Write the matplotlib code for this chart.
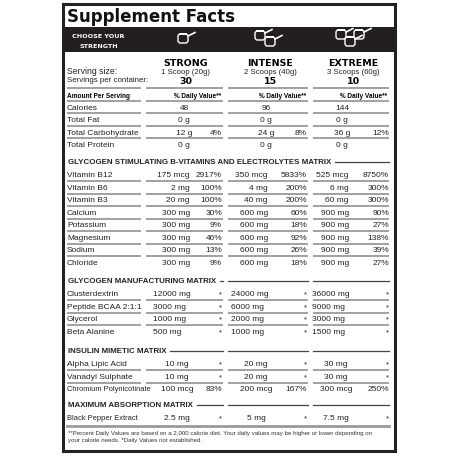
import matplotlib
matplotlib.use("Agg")
import matplotlib.pyplot as plt
from matplotlib.patches import Rectangle, FancyBboxPatch
from matplotlib import font_manager

names = [f.name for f in font_manager.fontManager.ttflist]
NARROW = 'Liberation Sans Narrow' if 'Liberation Sans Narrow' in names else 'Liberation Sans'
FAM = [NARROW, 'DejaVu Sans']

strengths = ["STRONG", "INTENSE", "EXTREME"]
serving_sizes = ["1 Scoop (20g)", "2 Scoops (40g)", "3 Scoops (60g)"]
servings = ["30", "15", "10"]

basic_names = ["Calories", "Total Fat", "Total Carbohydrate", "Total Protein"]
basic_vals = [["48", "96", "144"], ["0 g", "0 g", "0 g"], ["12 g", "24 g", "36 g"], ["0 g", "0 g", "0 g"]]
basic_pct = [["", "", ""], ["", "", ""], ["4%", "8%", "12%"], ["", "", ""]]

sections = [
    ("GLYCOGEN STIMULATING B-VITAMINS AND ELECTROLYTES MATRIX",
     ["Vitamin B12", "Vitamin B6", "Vitamin B3", "Calcium", "Potassium", "Magnesium", "Sodium", "Chloride"],
     [["175 mcg", "350 mcg", "525 mcg"], ["2 mg", "4 mg", "6 mg"], ["20 mg", "40 mg", "60 mg"],
      ["300 mg", "600 mg", "900 mg"], ["300 mg", "600 mg", "900 mg"], ["300 mg", "600 mg", "900 mg"],
      ["300 mg", "600 mg", "900 mg"], ["300 mg", "600 mg", "900 mg"]],
     [["2917%", "5833%", "8750%"], ["100%", "200%", "300%"], ["100%", "200%", "300%"],
      ["30%", "60%", "90%"], ["9%", "18%", "27%"], ["46%", "92%", "138%"],
      ["13%", "26%", "39%"], ["9%", "18%", "27%"]], 'right'),
    ("GLYCOGEN MANUFACTURING MATRIX",
     ["Clusterdextrin", "Peptide BCAA 2:1:1", "Glycerol", "Beta Alanine"],
     [["12000 mg", "24000 mg", "36000 mg"], ["3000 mg", "6000 mg", "9000 mg"],
      ["1000 mg", "2000 mg", "3000 mg"], ["500 mg", "1000 mg", "1500 mg"]],
     [["*", "*", "*"]] * 4, 'mfg'),
    ("INSULIN MIMETIC MATRIX",
     ["Alpha Lipic Acid", "Vanadyl Sulphate", "Chromium Polynicotinate"],
     [["10 mg", "20 mg", "30 mg"], ["10 mg", "20 mg", "30 mg"], ["100 mcg", "200 mcg", "300 mcg"]],
     [["*", "*", "*"], ["*", "*", "*"], ["83%", "167%", "250%"]], 'center'),
    ("MAXIMUM ABSORPTION MATRIX",
     ["Black Pepper Extract"],
     [["2.5 mg", "5 mg", "7.5 mg"]],
     [["*", "*", "*"]], 'center'),
]

fig = plt.figure(figsize=(4.6, 4.6), dpi=100)
ax = fig.add_axes([0, 0, 1, 1])
ax.set_xlim(0, 460); ax.set_ylim(460, 0); ax.axis('off')

ax.add_patch(Rectangle((63, 5), 332, 447, fill=False, ec='#222', lw=2.2))
ax.text(67, 17, "Supplement Facts", fontsize=12, fontweight='bold', family='DejaVu Sans',
        va='center', ha='left', color='#111')
ax.add_patch(Rectangle((64, 28), 330, 25, fc='#231f20', ec='none'))
ax.text(72, 36, "CHOOSE YOUR", fontsize=4.6, fontweight='bold', color='white', family='DejaVu Sans', va='center')
ax.text(80, 46, "STRENGTH", fontsize=4.6, fontweight='bold', color='white', family='DejaVu Sans', va='center')

def scoop(x, y):
    ax.add_patch(FancyBboxPatch((x, y), 10, 9, boxstyle="round,pad=0,rounding_size=2.5",
                                fc='#231f20', ec='white', lw=1))
    ax.plot([x + 10, x + 17], [y + 2, y - 1.5], color='white', lw=1.2)
    ax.add_patch(Rectangle((x + 1, y - 1), 8, 2, fc='white', ec='none'))

scoop(178, 35)
scoop(255, 32); scoop(265, 38)
scoop(336, 31); scoop(354, 31); scoop(345, 38)

cx = [186, 270, 353]
for i in range(3):
    ax.text(cx[i], 63, strengths[i], fontsize=6.8, fontweight='bold', ha='center', va='center', family='DejaVu Sans')
    ax.text(cx[i], 72, serving_sizes[i], fontsize=5.6, ha='center', va='center', family='Liberation Sans', color='#222')
    ax.text(cx[i], 81, servings[i], fontsize=6.8, fontweight='bold', ha='center', va='center', family='DejaVu Sans')
ax.text(67, 72, "Serving size:", fontsize=6.2, va='center', family='Liberation Sans', color='#222')
ax.text(67, 81, "Servings per container:", fontsize=5.7, va='center', family='Liberation Sans', color='#222')

segs = [(67, 141), (146, 223), (228, 308), (313, 389)]
LC = '#9a9a9a'
def underline(y, lw=1.3):
    for a, b in segs:
        ax.plot([a, b], [y, y], color=LC, lw=lw, solid_capstyle='butt')

underline(89)
ax.text(67, 96, "Amount Per Serving", fontsize=4.7, fontweight='bold', family=FAM, va='center')
for i, (a, b) in enumerate(segs[1:]):
    ax.text(b - 2, 96, "% Daily Value**", fontsize=4.7, fontweight='bold', family=FAM, va='center', ha='right')
underline(102)

valR = [190, 268, 349]
pctR = [222, 307, 389]
valC = [184, 266, 342]
fs = 6.0
y = 108
for n, v, p in zip(basic_names, basic_vals, basic_pct):
    ax.text(67, y, n, fontsize=fs, family=FAM, va='center', color='#222')
    for i in range(3):
        ax.text(valC[i], y, v[i], fontsize=fs, family=FAM, va='center', ha='center', color='#222')
        if p[i]:
            ax.text(pctR[i], y, p[i], fontsize=fs, family=FAM, va='center', ha='right', color='#222')
    if n != basic_names[-1]:
        underline(y + 6)
    y += 12.6

ystarts = [163, 282, 352, 406]
for (title, rn, rv, rp, mode), ys in zip(sections, ystarts):
    t = ax.text(68, ys, title, fontsize=5.7, fontweight='bold', family=FAM, va='center', color='#222')
    fig.canvas.draw()
    bb = t.get_window_extent()
    xend = bb.x1 + 4
    for a, b in segs:
        if b > xend:
            ax.plot([max(a, xend), b], [ys, ys], color='#444', lw=0.9)
    y = ys + 13
    for k, (n, v, p) in enumerate(zip(rn, rv, rp)):
        nfs = fs if len(n) < 20 else 5.4
        ax.text(67, y, n, fontsize=nfs, family=FAM, va='center', color='#222')
        for i in range(3):
            if mode == 'right':
                ax.text(valR[i], y, v[i], fontsize=fs, family=FAM, va='center', ha='right', color='#222')
            elif mode == 'mfg':
                ax.text([153, 231, 312][i], y, v[i], fontsize=fs, family=FAM, va='center', ha='left', color='#222')
            else:
                ax.text([177, 256, 336][i], y, v[i], fontsize=fs, family=FAM, va='center', ha='center', color='#222')
            ax.text(pctR[i], y, p[i], fontsize=fs if p[i] != '*' else 5.5, family=FAM, va='center', ha='right', color='#222')
        if k < len(rn) - 1:
            underline(y + 6)
        y += 12.5

ax.plot([67, 389], [427, 427], color=LC, lw=2)
ax.text(68, 434, "**Percent Daily Values are based on a 2,000 calorie diet. Your daily values may be higher or lower depending on",
        fontsize=4.4, family=FAM, va='center', color='#333')
ax.text(68, 441, "your calorie needs. *Daily Values not established.", fontsize=4.4, family=FAM, va='center', color='#333')

fig.savefig("out.png", dpi=100)
